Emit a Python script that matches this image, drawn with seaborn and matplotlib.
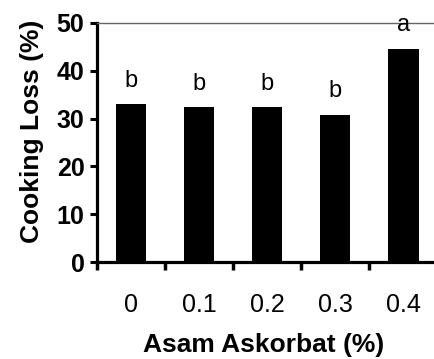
import matplotlib
matplotlib.use("Agg")
import matplotlib.pyplot as plt
import seaborn as sns
import pandas as pd
from matplotlib.ticker import FixedLocator

categories = ["0", "0.1", "0.2", "0.3", "0.4"]
cooking_loss = [33.0, 32.4, 32.4, 30.8, 44.6]
letters = ["b", "b", "b", "b", "a"]
y_ticks = [0, 10, 20, 30, 40, 50]

sns.set_theme(style="ticks")
plt.rcParams["font.family"] = ["Liberation Sans", "DejaVu Sans"]
plt.rcParams["text.color"] = "black"
plt.rcParams["axes.labelcolor"] = "black"
plt.rcParams["xtick.color"] = "black"
plt.rcParams["ytick.color"] = "black"
plt.rcParams["xtick.labelcolor"] = "black"
plt.rcParams["ytick.labelcolor"] = "black"

df = pd.DataFrame({"dose": categories, "loss": cooking_loss})

fig = plt.figure(figsize=(4.34, 3.59), dpi=100)
ax = fig.add_axes([0.2235, 0.270, 0.784, 0.666])

sns.barplot(data=df, x="dose", y="loss", order=categories, color="black",
            width=0.45, saturation=1, ax=ax, edgecolor="black", linewidth=0)

ax.set_xlim(-0.5, len(categories) - 0.5)
ax.set_ylim(0, 50)
ax.set_yticks(y_ticks)
ax.set_yticklabels([str(t) for t in y_ticks], fontsize=18, fontweight="bold", color="black")

# labels centered under bars, tick marks at category boundaries
ax.set_xticks(range(len(categories)))
ax.set_xticklabels(categories, fontsize=18, color="black")
ax.tick_params(axis="x", which="major", length=0, pad=22)
ax.xaxis.set_minor_locator(FixedLocator([i + 0.5 for i in range(-1, len(categories))]))
ax.tick_params(axis="x", which="minor", length=6, width=2.5, color="black", direction="out")
ax.tick_params(axis="y", which="major", length=5, width=2.2, color="black", pad=4)

for i, (v, l) in enumerate(zip(cooking_loss, letters)):
    ax.text(i, v + 2.6, l, ha="center", va="bottom", fontsize=17, color="black")

ax.spines["left"].set_linewidth(2.3)
ax.spines["bottom"].set_linewidth(2.3)
ax.spines["left"].set_color("black")
ax.spines["bottom"].set_color("black")
ax.spines["right"].set_visible(False)
ax.spines["top"].set_visible(True)
ax.spines["top"].set_linestyle((0, (1, 1)))
ax.spines["top"].set_linewidth(1.0)
ax.spines["top"].set_color("#666666")

ax.set_xlabel("Asam Askorbat (%)", fontsize=19, fontweight="bold", va="center", color="black")
ax.xaxis.set_label_coords(0.49, -0.345)
ax.set_ylabel("Cooking Loss (%)", fontsize=19, fontweight="bold", va="center", color="black")
ax.yaxis.set_label_coords(-0.19, 0.548)

fig.savefig("out.png", dpi=100)
